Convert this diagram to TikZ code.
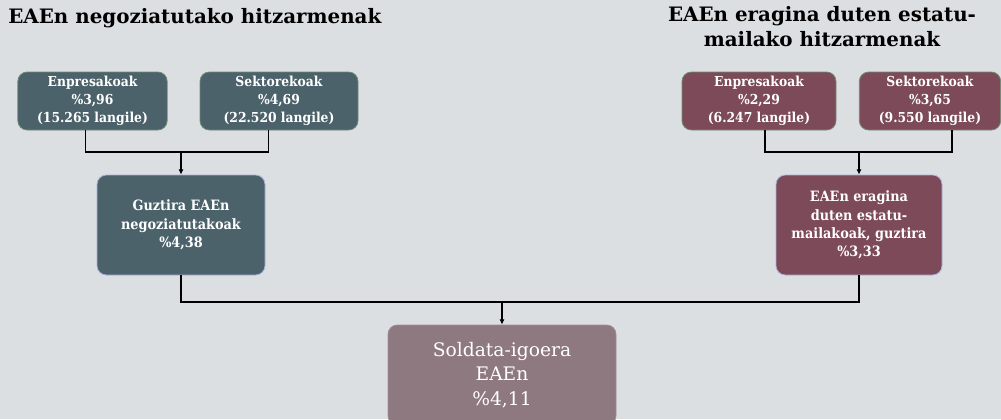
\documentclass[tikz,border=0pt]{standalone}
\usepackage{fontspec}
\setmainfont{DejaVu Serif}
\newfontfamily\boxfont{DejaVu Serif Condensed}
\usetikzlibrary{positioning, arrows.meta}
\definecolor{bgGrey}{HTML}{DCDFE2}
\definecolor{slateBox}{HTML}{4B626B}
\definecolor{wineBox}{HTML}{7C4A59}
\definecolor{mauveBox}{HTML}{8F7980}
\definecolor{edgeGreen}{HTML}{6F8C72}
\tikzset{
    box/.style = {draw=edgeGreen, line width=0.6pt, rounded corners=7pt, text=white,
                  align=center, inner sep=0pt},
    small box/.style = {box, minimum width=112pt, minimum height=43.5pt,
                        font=\boxfont\fontsize{10.3}{13.5}\selectfont\bfseries},
    total box/.style = {box, minimum width=126pt, minimum height=75pt,
                        font=\boxfont\fontsize{10.7}{13.7}\selectfont\bfseries},
    link/.style = {draw, line width=0.8pt},
    link arrow/.style = {link, -{Latex[length=4pt,width=4pt]}},
}

\begin{document}
\begin{tikzpicture}[x=0.75pt, y=-0.75pt]
				\fill[bgGrey] (0,0) rectangle (1001,419);
				\useasboundingbox (0,0) rectangle (1001,419);

				% titles
				\node[anchor=north west, inner sep=0pt, font=\fontsize{14.9}{19}\selectfont\bfseries] (titleL) at (8,8) {EAEn negoziatutako hitzarmenak};
				\node[anchor=north, inner sep=0pt, align=center, font=\fontsize{14.9}{19}\selectfont\bfseries] (titleR) at (822,6) {EAEn eragina duten estatu-\\mailako hitzarmenak};

				% left side
				\node[small box, fill=slateBox] (enpL) at (92.5,101) {Enpresakoak\\\%3,96\\(15.265 langile)};
				\node[small box, fill=slateBox, minimum width=118.5pt] (sektL) at (279,101) {Sektorekoak\\\%4,69\\(22.520 langile)};
				\node[total box, fill=slateBox, draw=slateBox!60!blue!40] (guztL) at (181,225) {Guztira EAEn\\negoziatutakoak\\\%4,38};

				% right side
				\node[small box, fill=wineBox, minimum width=115.5pt] (enpR) at (759,101) {Enpresakoak\\\%2,29\\(6.247 langile)};
				\node[small box, fill=wineBox, minimum width=106pt] (sektR) at (930,101) {Sektorekoak\\\%3,65\\(9.550 langile)};
				\node[total box, fill=wineBox, draw=slateBox!60!blue!40, minimum width=124.5pt] (guztR) at (859,225) {EAEn eragina\\duten estatu-\\mailakoak, guztira\\\%3,33};

				% result
				\node[box, fill=mauveBox, draw=mauveBox!85!white, minimum width=171pt, minimum height=75pt, font=\fontsize{14}{18.4}\selectfont] (soldata) at (502,375) {Soldata-igoera\\EAEn\\\%4,11};

				\coordinate (jL) at (181,152);
				\coordinate (jR) at (859,152);
				\coordinate (jB) at (502,302);

				\draw[link] ([xshift=-5.5pt]enpL.south) |- (jL) -| ([xshift=-8pt]sektL.south);
				\draw[link arrow] (jL) -- (guztL);
				\draw[link] ([xshift=4.5pt]enpR.south) |- (jR) -| ([xshift=16.5pt]sektR.south);
				\draw[link arrow] (jR) -- (guztR);
				\draw[link] (guztL) |- (jB) -| (guztR);
				\draw[link arrow] (jB) -- (soldata);
			\end{tikzpicture}
\end{document}
